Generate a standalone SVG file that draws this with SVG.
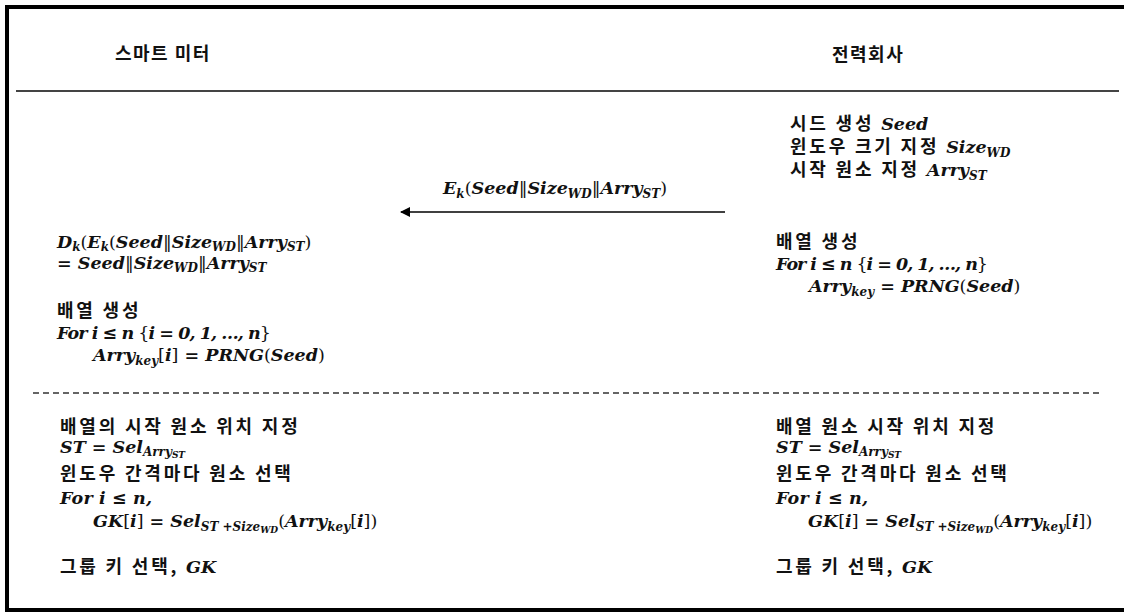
<svg xmlns="http://www.w3.org/2000/svg" width="1124" height="613" viewBox="0 0 1124 613">
<style>
.k{font-family:"Noto Sans CJK KR","Noto Sans",sans-serif;font-weight:bold;font-size:18px;letter-spacing:2.8px;fill:#111}
.h{font-family:"Noto Sans CJK KR","Noto Sans",sans-serif;font-weight:bold;font-size:18px;letter-spacing:1.5px;fill:#111}
.m{font-family:"DejaVu Serif","Liberation Serif",serif;font-weight:bold;font-style:italic;font-size:17.5px;letter-spacing:0;fill:#111}
.s{font-size:12px}
.t{font-size:9px}
.u{font-style:normal;font-weight:normal}
</style>
<defs>
<marker id="ah" markerWidth="10" markerHeight="10" refX="9" refY="5" orient="auto" markerUnits="userSpaceOnUse">
<path d="M0,0 L10,5 L0,10 Z" fill="#000"/>
</marker>
</defs>
<rect width="1124" height="613" fill="#fff"/>
<g id="frame">
<rect x="7" y="7" width="1130" height="603" fill="none" stroke="#000" stroke-width="4"/>
<line x1="16" y1="91" x2="1119" y2="91" stroke="#444" stroke-width="2"/>
<line x1="33" y1="393" x2="1103" y2="393" stroke="#333" stroke-width="1.5" stroke-dasharray="6,4"/>
</g>
<g id="header-meter"><text class="h" x="115" y="60">스마트 미터</text></g>
<g id="header-company"><text class="h" x="832" y="61">전력회사</text></g>
<g id="connectors">
<line x1="725" y1="212" x2="401" y2="212" stroke="#000" stroke-width="1.5" marker-end="url(#ah)"/>
<text class="m" x="443" y="194">E<tspan class="s" dy="4">k</tspan><tspan class="u" dy="-4">(</tspan>Seed<tspan class="u">‖</tspan>Size<tspan class="s" dy="4">WD</tspan><tspan class="u" dy="-4">‖</tspan>Arry<tspan class="s" dy="4">ST</tspan><tspan class="u" dy="-4">)</tspan></text>
</g>
<g id="company-setup">
<text class="k" x="790" y="130">시드 생성 <tspan class="m">Seed</tspan></text>
<text class="k" x="790" y="153">윈도우 크기 지정 <tspan class="m">Size<tspan class="s" dy="4">WD</tspan></tspan></text>
<text class="k" x="790" y="176">시작 원소 지정 <tspan class="m">Arry<tspan class="s" dy="4">ST</tspan></tspan></text>
</g>
<g id="company-array">
<text class="k" x="776" y="248">배열 생성</text>
<text class="m" x="776" y="270" textLength="212" lengthAdjust="spacing">For i ≤ n <tspan class="u">{</tspan>i = 0, 1, …, n<tspan class="u">}</tspan></text>
<text class="m" x="809" y="292">Arry<tspan class="s" dy="4">key</tspan><tspan dy="-4"> = PRNG</tspan><tspan class="u">(</tspan>Seed<tspan class="u">)</tspan></text>
</g>
<g id="meter-array">
<text class="m" x="57" y="248">D<tspan class="s" dy="3">k</tspan><tspan class="u" dy="-3">(</tspan>E<tspan class="s" dy="3">k</tspan><tspan class="u" dy="-3">(</tspan>Seed<tspan class="u">‖</tspan>Size<tspan class="s" dy="3">WD</tspan><tspan class="u" dy="-3">‖</tspan>Arry<tspan class="s" dy="3">ST</tspan><tspan class="u" dy="-3">)</tspan></text>
<text class="m" x="57" y="269">= Seed<tspan class="u">‖</tspan>Size<tspan class="s" dy="3">WD</tspan><tspan class="u" dy="-3">‖</tspan>Arry<tspan class="s" dy="3">ST</tspan></text>
<text class="k" x="57" y="317">배열 생성</text>
<text class="m" x="57" y="339" textLength="214" lengthAdjust="spacing">For i ≤ n <tspan class="u">{</tspan>i = 0, 1, …, n<tspan class="u">}</tspan></text>
<text class="m" x="93" y="361">Arry<tspan class="s" dy="4">key</tspan><tspan class="u" dy="-4">[</tspan>i<tspan class="u">]</tspan> = PRNG<tspan class="u">(</tspan>Seed<tspan class="u">)</tspan></text>
</g>
<g id="meter-select">
<text class="k" x="60" y="433">배열의 시작 원소 위치 지정</text>
<text class="m" x="60" y="453">ST = Sel<tspan class="s" dy="3">Arry</tspan><tspan class="t" dy="2">ST</tspan></text>
<text class="k" x="60" y="480">윈도우 간격마다 원소 선택</text>
<text class="m" x="60" y="504" textLength="92" lengthAdjust="spacing">For i ≤ n,</text>
<text class="m" x="93" y="527">GK<tspan class="u">[</tspan>i<tspan class="u">]</tspan> = Sel<tspan class="s" dy="4">ST +Size</tspan><tspan class="t" dy="2">WD</tspan><tspan class="u" dy="-6">(</tspan>Arry<tspan class="s" dy="4">key</tspan><tspan class="u" dy="-4">[</tspan>i<tspan class="u">])</tspan></text>
<text class="k" x="60" y="573">그룹 키 선택, <tspan class="m">GK</tspan></text>
</g>
<g id="company-select">
<text class="k" x="776" y="433">배열 원소 시작 위치 지정</text>
<text class="m" x="776" y="453">ST = Sel<tspan class="s" dy="3">Arry</tspan><tspan class="t" dy="2">ST</tspan></text>
<text class="k" x="776" y="480">윈도우 간격마다 원소 선택</text>
<text class="m" x="776" y="504" textLength="92" lengthAdjust="spacing">For i ≤ n,</text>
<text class="m" x="808" y="527">GK<tspan class="u">[</tspan>i<tspan class="u">]</tspan> = Sel<tspan class="s" dy="4">ST +Size</tspan><tspan class="t" dy="2">WD</tspan><tspan class="u" dy="-6">(</tspan>Arry<tspan class="s" dy="4">key</tspan><tspan class="u" dy="-4">[</tspan>i<tspan class="u">])</tspan></text>
<text class="k" x="776" y="573">그룹 키 선택, <tspan class="m">GK</tspan></text>
</g>
</svg>
